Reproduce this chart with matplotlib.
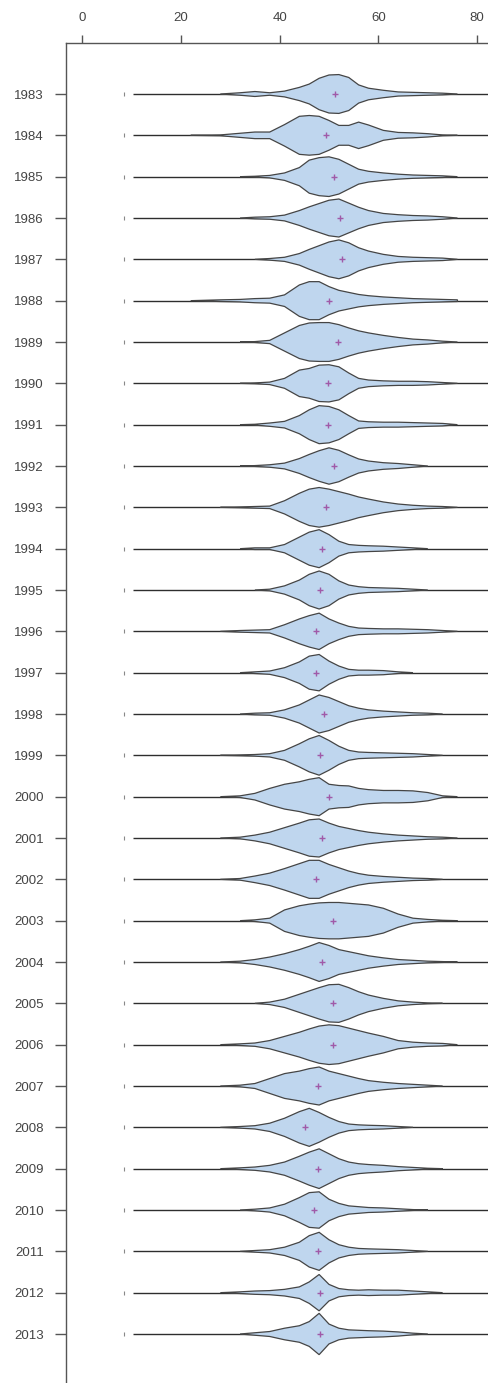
import matplotlib
matplotlib.use("Agg")
import matplotlib.pyplot as plt
import numpy as np

plt.rcParams['font.family'] = ['Liberation Sans', 'DejaVu Sans']

years = list(range(1983, 2014))
x_ticks = [0, 20, 40, 60, 80]

# mean (purple plus) per year
means = [51.2, 49.4, 51.0, 52.3, 52.6, 50.0, 51.8, 49.7, 49.7, 51.1,
         49.4, 48.5, 48.2, 47.4, 47.4, 49.0, 48.2, 50.0, 48.5, 47.4,
         50.8, 48.5, 50.8, 50.8, 47.8, 45.1, 47.8, 47.0, 47.8, 48.2, 48.2]

# overall range line and isolated low point
line_start = 10.3
low_point = 8.5

# density outline: x positions and half-widths (row units) per year
grid_x = [22, 28, 32, 35, 38, 41, 44, 46, 48, 50, 52, 54, 56, 58, 61, 64, 67, 70, 73, 76]
half_widths = [
    [0, 0, 0.03, 0.06, 0.03, 0.07, 0.16, 0.24, 0.38, 0.46, 0.47, 0.4, 0.22, 0.14, 0.09, 0.05, 0.04, 0.03, 0.02, 0],   # 1983
    [0, 0.01, 0.05, 0.08, 0.08, 0.26, 0.46, 0.48, 0.46, 0.36, 0.24, 0.24, 0.32, 0.25, 0.12, 0.07, 0.06, 0.04, 0.01, 0],  # 1984
    [0, 0, 0, 0.01, 0.03, 0.09, 0.22, 0.4, 0.46, 0.48, 0.42, 0.3, 0.18, 0.13, 0.09, 0.06, 0.04, 0.03, 0.02, 0],  # 1985
    [0, 0, 0, 0.02, 0.03, 0.07, 0.18, 0.27, 0.35, 0.43, 0.46, 0.36, 0.26, 0.18, 0.11, 0.08, 0.06, 0.05, 0.03, 0],  # 1986
    [0, 0, 0, 0, 0.02, 0.05, 0.14, 0.24, 0.33, 0.42, 0.47, 0.4, 0.28, 0.2, 0.12, 0.07, 0.05, 0.04, 0.03, 0],  # 1987
    [0, 0.02, 0.03, 0.05, 0.06, 0.14, 0.38, 0.46, 0.46, 0.34, 0.25, 0.2, 0.15, 0.12, 0.09, 0.07, 0.05, 0.04, 0.03, 0.02],  # 1988
    [0, 0, 0, 0.01, 0.04, 0.22, 0.4, 0.46, 0.47, 0.47, 0.42, 0.34, 0.27, 0.22, 0.16, 0.11, 0.07, 0.05, 0.02, 0],  # 1989
    [0, 0, 0, 0.01, 0.03, 0.12, 0.32, 0.36, 0.44, 0.45, 0.4, 0.25, 0.12, 0.08, 0.06, 0.05, 0.05, 0.04, 0.02, 0],  # 1990
    [0, 0, 0, 0.01, 0.04, 0.08, 0.22, 0.36, 0.46, 0.44, 0.36, 0.22, 0.09, 0.07, 0.06, 0.06, 0.05, 0.04, 0.03, 0],  # 1991
    [0, 0, 0, 0.01, 0.03, 0.07, 0.18, 0.28, 0.37, 0.44, 0.38, 0.27, 0.17, 0.12, 0.08, 0.06, 0.03, 0, 0, 0],  # 1992
    [0, 0, 0.01, 0.02, 0.03, 0.16, 0.34, 0.44, 0.48, 0.44, 0.38, 0.32, 0.25, 0.2, 0.13, 0.08, 0.05, 0.03, 0.02, 0],  # 1993
    [0, 0, 0, 0.02, 0.02, 0.1, 0.28, 0.4, 0.46, 0.34, 0.18, 0.1, 0.08, 0.07, 0.06, 0.04, 0.02, 0, 0, 0],  # 1994
    [0, 0, 0, 0, 0.02, 0.1, 0.24, 0.38, 0.46, 0.38, 0.22, 0.12, 0.08, 0.06, 0.05, 0.04, 0.02, 0, 0, 0],  # 1995
    [0, 0, 0.02, 0.03, 0.04, 0.16, 0.3, 0.38, 0.44, 0.3, 0.2, 0.12, 0.08, 0.07, 0.06, 0.06, 0.05, 0.04, 0.02, 0],  # 1996
    [0, 0, 0, 0.02, 0.04, 0.12, 0.26, 0.4, 0.44, 0.28, 0.16, 0.08, 0.06, 0.06, 0.05, 0.02, 0, 0, 0, 0],  # 1997
    [0, 0, 0, 0.02, 0.03, 0.1, 0.22, 0.34, 0.46, 0.4, 0.3, 0.2, 0.14, 0.1, 0.07, 0.05, 0.03, 0.02, 0, 0],  # 1998
    [0, 0, 0.01, 0.02, 0.04, 0.12, 0.28, 0.4, 0.48, 0.36, 0.22, 0.12, 0.08, 0.07, 0.06, 0.05, 0.04, 0.02, 0, 0],  # 1999
    [0, 0, 0.02, 0.08, 0.2, 0.3, 0.36, 0.42, 0.46, 0.3, 0.27, 0.26, 0.2, 0.17, 0.15, 0.15, 0.14, 0.1, 0.02, 0],  # 2000
    [0, 0, 0.02, 0.07, 0.14, 0.25, 0.36, 0.44, 0.46, 0.36, 0.28, 0.23, 0.18, 0.14, 0.1, 0.07, 0.05, 0.03, 0.02, 0],  # 2001
    [0, 0, 0.02, 0.08, 0.15, 0.26, 0.38, 0.46, 0.46, 0.36, 0.28, 0.2, 0.14, 0.1, 0.07, 0.05, 0.03, 0.02, 0, 0],  # 2002
    [0, 0, 0, 0.02, 0.06, 0.26, 0.36, 0.4, 0.43, 0.44, 0.44, 0.42, 0.4, 0.38, 0.3, 0.16, 0.06, 0.03, 0.01, 0],  # 2003
    [0, 0, 0.02, 0.06, 0.12, 0.2, 0.3, 0.38, 0.47, 0.4, 0.3, 0.25, 0.2, 0.15, 0.1, 0.06, 0.04, 0.02, 0.01, 0],  # 2004
    [0, 0, 0, 0, 0.03, 0.1, 0.22, 0.3, 0.38, 0.45, 0.46, 0.38, 0.28, 0.2, 0.12, 0.06, 0.03, 0.01, 0, 0],  # 2005
    [0, 0, 0.02, 0.04, 0.1, 0.2, 0.3, 0.38, 0.45, 0.48, 0.46, 0.4, 0.34, 0.28, 0.2, 0.1, 0.06, 0.04, 0.03, 0],  # 2006
    [0, 0, 0.02, 0.06, 0.18, 0.3, 0.36, 0.42, 0.46, 0.36, 0.3, 0.24, 0.18, 0.13, 0.09, 0.06, 0.04, 0.02, 0, 0],  # 2007
    [0, 0, 0.02, 0.04, 0.1, 0.22, 0.38, 0.46, 0.36, 0.24, 0.14, 0.08, 0.06, 0.05, 0.04, 0.02, 0, 0, 0, 0],  # 2008
    [0, 0, 0.02, 0.04, 0.08, 0.16, 0.3, 0.4, 0.48, 0.36, 0.24, 0.16, 0.12, 0.1, 0.08, 0.05, 0.03, 0.01, 0, 0],  # 2009
    [0, 0, 0, 0.02, 0.05, 0.14, 0.3, 0.42, 0.44, 0.26, 0.16, 0.1, 0.08, 0.06, 0.05, 0.03, 0.01, 0, 0, 0],  # 2010
    [0, 0, 0, 0.02, 0.04, 0.1, 0.22, 0.38, 0.46, 0.28, 0.16, 0.1, 0.07, 0.06, 0.05, 0.04, 0.02, 0, 0, 0],  # 2011
    [0, 0, 0.02, 0.04, 0.05, 0.08, 0.14, 0.26, 0.44, 0.2, 0.1, 0.07, 0.06, 0.07, 0.06, 0.06, 0.04, 0.02, 0, 0],  # 2012
    [0, 0, 0, 0.03, 0.06, 0.14, 0.2, 0.3, 0.5, 0.24, 0.14, 0.1, 0.09, 0.08, 0.07, 0.05, 0.02, 0, 0, 0],  # 2013
]

W, H, DPI = 489, 1383, 100
fig = plt.figure(figsize=(W / DPI, H / DPI), dpi=DPI)

# pixel mapping: x=0 at px 82, 4.94 px per unit; axes from px 66 to right edge
px_per_unit = 4.94
x0_px = 82
ax_left_px = 66
ax_top_px = 43
row_px = (1334 - 94) / 30.0
y_first_px = 94

ax = fig.add_axes([ax_left_px / W, 0.0, 1 - ax_left_px / W, 1 - ax_top_px / H])
ax.set_xlim((ax_left_px - x0_px) / px_per_unit, (W - x0_px) / px_per_unit)
y_top = years[0] - (y_first_px - ax_top_px) / row_px
y_bot = years[0] + (H - y_first_px) / row_px
ax.set_ylim(y_bot, y_top)

fill_c = '#bfd6ee'
edge_c = '#454545'
line_c = '#2e2e2e'
mean_c = '#a05aa8'

gx = np.array(grid_x, dtype=float)
for i, yr in enumerate(years):
    ax.plot([line_start, 100], [yr, yr], color=line_c, lw=1.0, zorder=1, solid_capstyle='butt')
    ax.plot([low_point], [yr], marker='|', ms=2.5, color='#888888', mew=0.8, zorder=1)
    w = np.array(half_widths[i], dtype=float)
    nz = np.nonzero(w)[0]
    lo, hi = max(nz[0] - 1, 0), min(nz[-1] + 1, len(w) - 1)
    xs = gx[lo:hi + 1]
    ws = w[lo:hi + 1]
    poly_x = np.concatenate([xs, xs[::-1]])
    poly_y = np.concatenate([yr - ws, (yr + ws)[::-1]])
    ax.fill(poly_x, poly_y, facecolor=fill_c, edgecolor=edge_c, lw=0.9, zorder=2 + i * 0.01)
    ax.plot([means[i]], [yr], marker='+', ms=4, mew=1.0, color=mean_c, zorder=4)

ax.xaxis.set_ticks_position('top')
ax.set_xticks(x_ticks)
ax.set_xticklabels([str(v) for v in x_ticks])
ax.set_yticks(years)
ax.set_yticklabels([str(y) for y in years])

for s in ['right', 'bottom']:
    ax.spines[s].set_visible(False)
for s in ['left', 'top']:
    ax.spines[s].set_color('#555555')
    ax.spines[s].set_linewidth(1.0)

ax.tick_params(axis='x', direction='out', length=6, width=1.0, color='#555555',
               labelsize=9.5, labelcolor='#444444', pad=8)
ax.tick_params(axis='y', direction='out', length=8, width=1.0, color='#555555',
               labelsize=9.5, labelcolor='#444444', pad=8)

fig.savefig('out.png', dpi=DPI)
